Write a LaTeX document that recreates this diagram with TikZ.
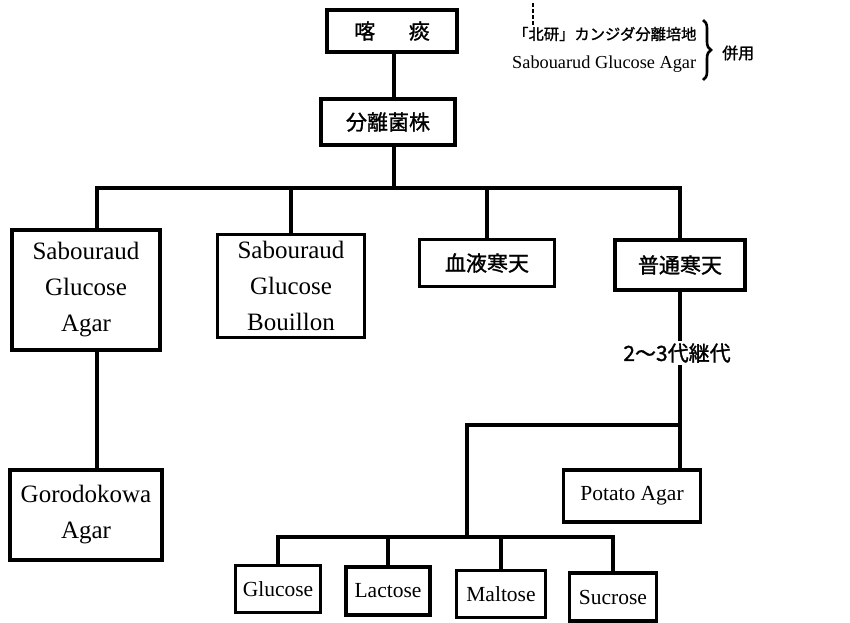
\documentclass[tikz,border=0pt]{standalone}
\usepackage{fontspec}
\setmainfont{Liberation Serif}
\newfontfamily\jp{Noto Sans CJK JP}[FakeBold=1.3]
\usetikzlibrary{decorations.pathreplacing}
\tikzset{
  box/.style={draw, line width=3.2pt, inner sep=0pt, align=center},
  conn/.style={line width=3.4pt},
  lat/.style={font=\fontsize{25}{36}\selectfont},
  latsm/.style={font=\fontsize{21.5}{26}\selectfont},
  jpf/.style={font=\jp\fontsize{21}{26}\selectfont},
}
\begin{document}
\begin{tikzpicture}[x=1pt,y=-1pt]
\useasboundingbox (0,0) rectangle (850,622);
% top nodes
\node[box,jpf,minimum width=130pt,minimum height=42pt] (sputum) at (392,31) {喀\hspace{1.6em}痰};
\node[box,jpf,minimum width=134pt,minimum height=46pt] (isolate) at (388,122) {分離菌株};
% second row
\node[box,lat,minimum width=148pt,minimum height=120pt] (sga) at (86,290) {Sabouraud\\Glucose\\Agar};
\node[box,lat,minimum width=147pt,minimum height=103pt] (sgb) at (291,286) {Sabouraud\\Glucose\\Bouillon};
\node[box,jpf,minimum width=135pt,minimum height=47pt] (blood) at (487,263) {血液寒天};
\node[box,jpf,minimum width=130pt,minimum height=50pt] (plain) at (680,265) {普通寒天};
% lower
\node[box,lat,minimum width=152pt,minimum height=90pt] (goro) at (86,515) {Gorodokowa\\Agar};
\node[jpf,inner sep=2pt] (gen) at (677,353) {2～3代継代};
\node[box,latsm,minimum width=137pt,minimum height=52pt] (potato) at (632,496) {Potato\ Agar};
\node[box,latsm,minimum width=85pt,minimum height=47pt] (glc) at (278,589) {Glucose};
\node[box,latsm,minimum width=84pt,minimum height=48pt] (lac) at (388,591) {Lactose};
\node[box,latsm,minimum width=89pt,minimum height=47pt] (mal) at (501,594) {Maltose};
\node[box,latsm,minimum width=87pt,minimum height=48pt] (suc) at (613,597) {Sucrose};
% annotation
\node[font=\jp\fontsize{15.3}{20}\selectfont,anchor=west,inner sep=0pt] (hk) at (513,34) {「北研」カンジダ分離培地};
\node[font=\fontsize{18.3}{22}\selectfont,anchor=west,inner sep=0pt] (sab) at (512,64) {Sabouarud Glucose Agar};
\coordinate (dtop) at (533,3);
\draw[line width=1.2pt,dash pattern=on 4pt off 2pt] (dtop) -- (hk.north -| dtop);
\coordinate (brt) at (703,20);
\coordinate (brb) at (703,80);
\draw[line width=2.6pt,decorate,decoration={brace,amplitude=8pt}] (brt) -- (brb);
\node[font=\jp\fontsize{16}{20}\selectfont,anchor=west,inner sep=0pt] (heiyo) at (722,53) {併用};
% connectors
\coordinate (busL) at (97,188);
\coordinate (busR) at (680,188);
\coordinate (vx) at (394,0);
\draw[conn] (sputum.south -| vx) -- (isolate.north -| vx);
\draw[conn] (isolate.south -| vx) -- (busL -| vx);
\draw[conn] (sga.north -| busL) -- (busL) -- (busR) -- (plain.north);
\draw[conn] (sgb.north) -- (sgb.north |- busL);
\draw[conn] (blood.north) -- (blood.north |- busL);
\draw[conn] (sga.south -| busL) -- (goro.north -| busL);
\draw[conn] (plain.south) -- (gen.north -| plain.south);
\coordinate (j) at (680,425);
\coordinate (jl) at (467,425);
\coordinate (bb) at (467,537);
\draw[conn] (gen.south -| j) -- (potato.north -| j);
\draw[conn] (j) -- (jl) -- (bb);
\draw[conn] (glc.north) |- (bb) -| (suc.north);
\draw[conn] (lac.north) -- (lac.north |- bb);
\draw[conn] (mal.north) -- (mal.north |- bb);
\end{tikzpicture}
\end{document}
